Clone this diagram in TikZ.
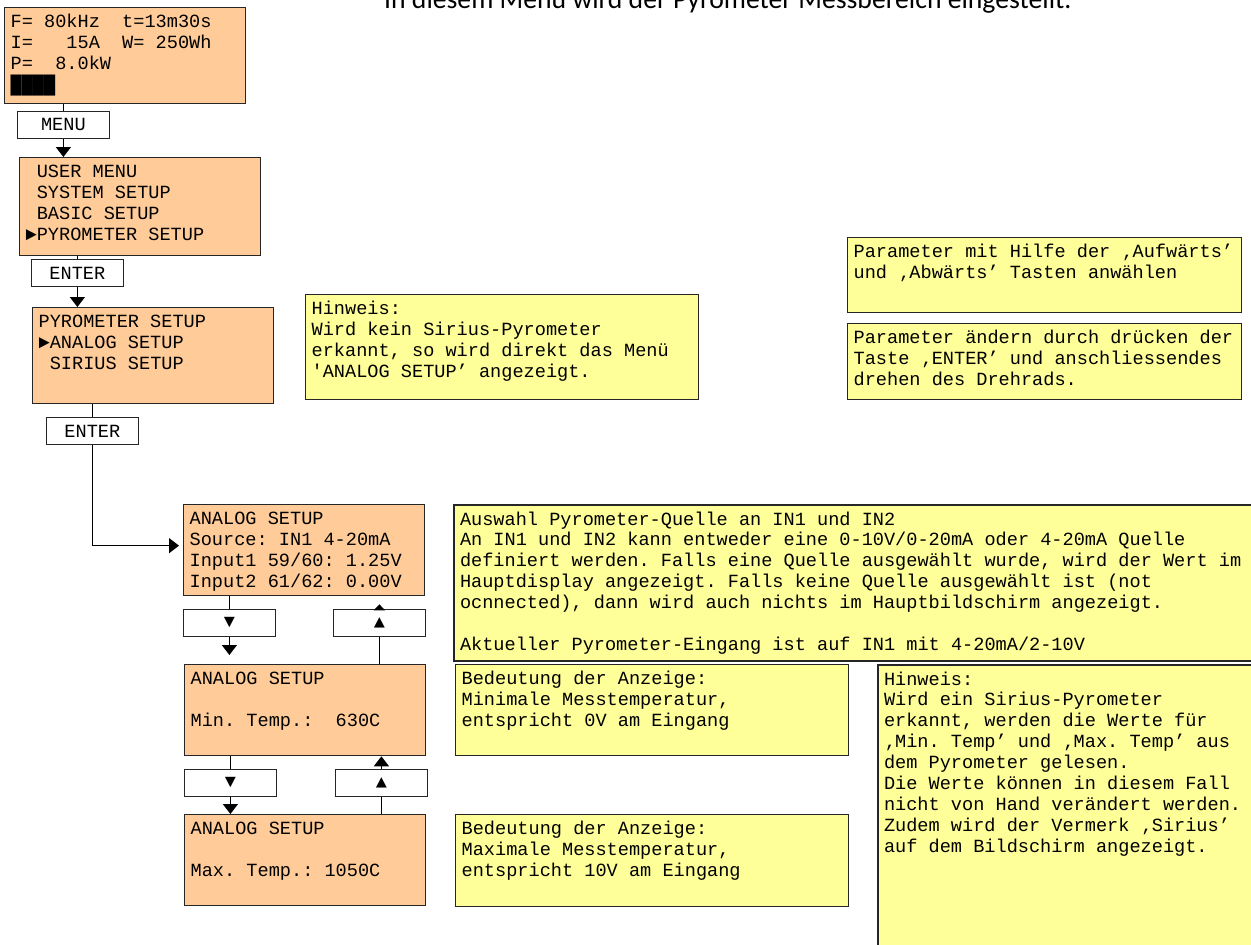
\documentclass[tikz,border=0pt]{standalone}
\usepackage{fontspec}
\setmonofont{Liberation Mono}
\newfontfamily\titlefont{Carlito}
\usetikzlibrary{arrows.meta}

\definecolor{lcdorange}{RGB}{255,204,153}
\definecolor{noteyellow}{RGB}{255,255,153}

\begin{document}
\begin{tikzpicture}[
  x=1pt, y=-1pt,
  font=\ttfamily\fontsize{18.6}{20.9}\selectfont\frenchspacing,
  fixspace/.style={execute at begin node={\spaceskip=0.6001em\relax}},
  lcd/.style={fixspace, draw=black!85, fill=lcdorange, line width=1.3pt, anchor=north west,
              text width=229pt, inner xsep=6pt, inner ysep=5.4pt,
              text height=14.6pt, text depth=65.6pt},
  note/.style={fixspace, draw=black!85, fill=noteyellow, line width=1.3pt, anchor=north west,
               text width=381pt, inner xsep=6pt, inner ysep=5.4pt,
               text height=14.6pt, text depth=65.6pt},
  btn/.style={draw=black!85, fill=white, line width=1.3pt, anchor=north west,
              minimum width=91.5pt, minimum height=26.5pt, inner sep=0pt},
  link/.style={draw=black, line width=1.5pt},
  arr/.style={link, -{Triangle[width=15pt,length=10pt]}}
]
\useasboundingbox (0,0) rectangle (1251,945);
\clip (0,0) rectangle (1251,945);

% heading, cut off at the top edge
\node[font=\titlefont\fontsize{27.7}{33}\selectfont, anchor=base west, inner sep=0pt]
  (title) at (384,8) {In diesem Menü wird der Pyrometer Messbereich eingestellt.};

% menu path on the left
\node[lcd, text depth=70.6pt] (disp) at (4,7)
  {F=~80kHz~~t=13m30s\\I=~~~15A~~W=~250Wh\\P=~~8.0kW\\████};
\node[btn] (menu) at (17,111) {MENU};
\node[lcd, text depth=72.6pt] (user) at (19,157)
  {~USER MENU\\~SYSTEM SETUP\\~BASIC SETUP\\►PYROMETER SETUP};
\node[btn] (enter1) at (31,259) {ENTER};
\node[lcd, text depth=70.6pt] (pyro) at (32,307)
  {PYROMETER SETUP\\►ANALOG SETUP\\~SIRIUS SETUP};
\node[btn] (enter2) at (46,417) {ENTER};

% analog setup pages
\node[lcd] (analog1) at (183,504)
  {ANALOG SETUP\\Source: IN1 4-20mA\\Input1 59/60: 1.25V\\Input2 61/62: 0.00V};
\node[btn] (down1) at (183,609) {▼};
\node[btn] (up1) at (333,609) {▲};
\node[lcd] (analog2) at (184,664) {ANALOG SETUP\\~\\Min. Temp.:~~630C};
\node[btn] (down2) at (184,769) {▼};
\node[btn] (up2) at (335,769) {▲};
\node[lcd] (analog3) at (184,814) {ANALOG SETUP\\~\\Max. Temp.: 1050C};

% notes
\node[note, text depth=79.6pt] (hint1) at (305,294)
  {Hinweis:\\Wird kein Sirius-Pyrometer\\erkannt, so wird direkt das Menü\\'ANALOG SETUP’ angezeigt.};
\node[note, text width=382pt, text depth=49.6pt] (param1) at (847,237)
  {Parameter mit Hilfe der ‚Aufwärts’\\und ‚Abwärts’ Tasten anwählen};
\node[note, text width=382pt, text depth=50.6pt] (param2) at (847,323)
  {Parameter ändern durch drücken der\\Taste ‚ENTER’ und anschliessendes\\drehen des Drehrads.};
\node[note, line width=2pt, text width=808pt, text depth=130.6pt] (source) at (453,504)
  {Auswahl Pyrometer-Quelle an IN1 und IN2\\
   An IN1 und IN2 kann entweder eine 0-10V/0-20mA oder 4-20mA Quelle\\
   definiert werden. Falls eine Quelle ausgewählt wurde, wird der Wert im\\
   Hauptdisplay angezeigt. Falls keine Quelle ausgewählt ist (not\\
   ocnnected), dann wird auch nichts im Hauptbildschirm angezeigt.\\~\\
   Aktueller Pyrometer-Eingang ist auf IN1 mit 4-20mA/2-10V};
\node[note] (mean1) at (455,664)
  {Bedeutung der Anzeige:\\Minimale Messtemperatur,\\entspricht 0V am Eingang};
\node[note, text depth=66.6pt] (mean2) at (455,814)
  {Bedeutung der Anzeige:\\Maximale Messtemperatur,\\entspricht 10V am Eingang};
\node[note, line width=2pt, text width=400pt, text depth=300pt] (hint2) at (877,664)
  {Hinweis:\\Wird ein Sirius-Pyrometer\\erkannt, werden die Werte für\\
   ‚Min. Temp’ und ‚Max. Temp’ aus\\dem Pyrometer gelesen.\\
   Die Werte können in diesem Fall\\nicht von Hand verändert werden.\\
   Zudem wird der Vermerk ‚Sirius’\\auf dem Bildschirm angezeigt.};

% connectors
\draw[link] (disp.south -| menu.north) -- (menu.north);
\draw[arr] (menu.south) -- (menu.south |- user.north);
\draw[link] (user.south -| enter1.north) -- (enter1.north);
\draw[arr] (enter1.south) -- (enter1.south |- pyro.north);
\draw[link] (pyro.south -| enter2.north) -- (enter2.north);
\draw[arr, shorten >=4pt] (enter2.south) |- ([yshift=4.5pt]analog1.west);
\draw[link] (analog1.south -| down1.north) -- (down1.north);
\draw[arr, shorten >=9pt] (down1.south) -- (down1.south |- analog2.north);
\draw[link, -{Triangle[width=11pt,length=6pt]}, shorten >=8pt] (up1.north) -- (up1.north |- analog1.south);
\draw[link] (analog2.north -| up1.south) -- (up1.south);
\draw[link] (analog2.south -| down2.north) -- (down2.north);
\draw[arr] (down2.south) -- (down2.south |- analog3.north);
\draw[arr] (up2.north) -- (up2.north |- analog2.south);
\draw[link] (analog3.north -| up2.south) -- (up2.south);
\end{tikzpicture}
\end{document}
